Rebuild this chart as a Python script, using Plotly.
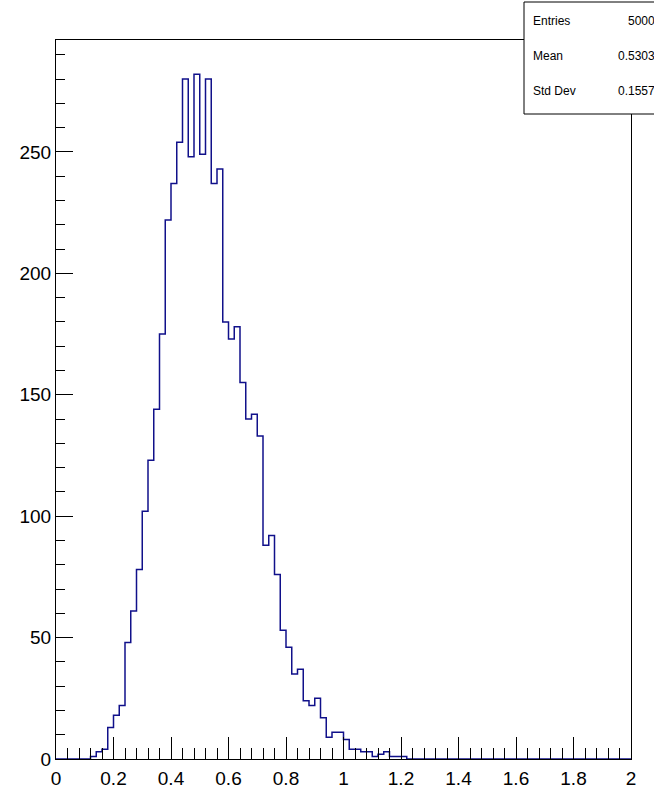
import numpy as np
import plotly.graph_objects as go

# ---- data ----
x_min, x_max, n_bins = 0.0, 2.0, 100
first_bin = 6  # index of first non-empty bin (0.12-0.14)
counts_nz = [1, 3, 4, 13, 18, 22, 48, 61, 78, 102, 123, 144, 175, 222, 237, 254,
             280, 248, 282, 249, 280, 237, 243, 180, 173, 178, 155, 140, 142, 133,
             88, 92, 76, 53, 46, 35, 37, 24, 22, 25, 17, 9, 11, 11, 8, 4, 4, 3, 3,
             1, 2, 3, 1, 1, 1]
stats_labels = ["Entries", "Mean", "Std Dev"]
stats_values = ["5000", "0.5303", "0.1557"]

counts = np.zeros(n_bins)
counts[first_bin:first_bin + len(counts_nz)] = counts_nz
edges = np.linspace(x_min, x_max, n_bins + 1)
ys = np.append(counts, counts[-1])
y_top = counts.max() * 1.05

FONT = "Liberation Sans, Arial, Helvetica, sans-serif"

fig = go.Figure(go.Scatter(
    x=edges, y=ys, mode="lines",
    line=dict(shape="hv", color="#10108a", width=1.5),
    hoverinfo="skip",
))

fig.update_layout(
    width=654, height=792, autosize=False,
    margin=dict(l=56, r=23, t=40, b=33, pad=0, autoexpand=False),
    paper_bgcolor="white", plot_bgcolor="white",
    showlegend=False,
    font=dict(family=FONT, color="black"),
)
fig.update_xaxes(
    range=[x_min, x_max], tickmode="linear", tick0=0, dtick=0.2,
    ticks="inside", ticklen=22, tickwidth=1, tickcolor="black",
    showline=True, linecolor="black", linewidth=1, mirror=True,
    showgrid=False, zeroline=False, tickfont=dict(size=19, family=FONT),
    ticklabelstandoff=2, automargin=False,
    minor=dict(ticks="inside", dtick=0.04, ticklen=11, tickwidth=1,
               tickcolor="black", showgrid=False),
)
fig.update_yaxes(
    range=[0, y_top], tickmode="linear", tick0=0, dtick=50,
    ticks="inside", ticklen=17, tickwidth=1, tickcolor="black",
    showline=True, linecolor="black", linewidth=1, mirror=True,
    showgrid=False, zeroline=False, tickfont=dict(size=19, family=FONT),
    automargin=False,
    minor=dict(ticks="inside", dtick=10, ticklen=9, tickwidth=1,
               tickcolor="black", showgrid=False),
)

# ---- statistics box (paper coords: x 0->56px, 1->631px ; y 0->759px, 1->40px) ----
def px_x(px):
    return (px - 56) / 575.0

def px_y(py):
    return (759 - py) / 719.0

fig.add_shape(type="rect", xref="paper", yref="paper",
              x0=px_x(524), x1=px_x(700), y0=px_y(114), y1=px_y(2),
              line=dict(color="black", width=1), fillcolor="white", layer="above")

row_y = [21, 56, 91]
for lab, val, yy in zip(stats_labels, stats_values, row_y):
    fig.add_annotation(xref="paper", yref="paper", x=px_x(531), y=px_y(yy),
                       text=lab, showarrow=False, xanchor="left", yanchor="middle",
                       font=dict(size=12, family=FONT, color="black"))
    fig.add_annotation(xref="paper", yref="paper", x=px_x(657), y=px_y(yy),
                       text=val, showarrow=False, xanchor="right", yanchor="middle",
                       font=dict(size=12, family=FONT, color="black"))

fig.write_html("out.html", config={"displayModeBar": False},
               post_script="document.body.style.margin='0';")
